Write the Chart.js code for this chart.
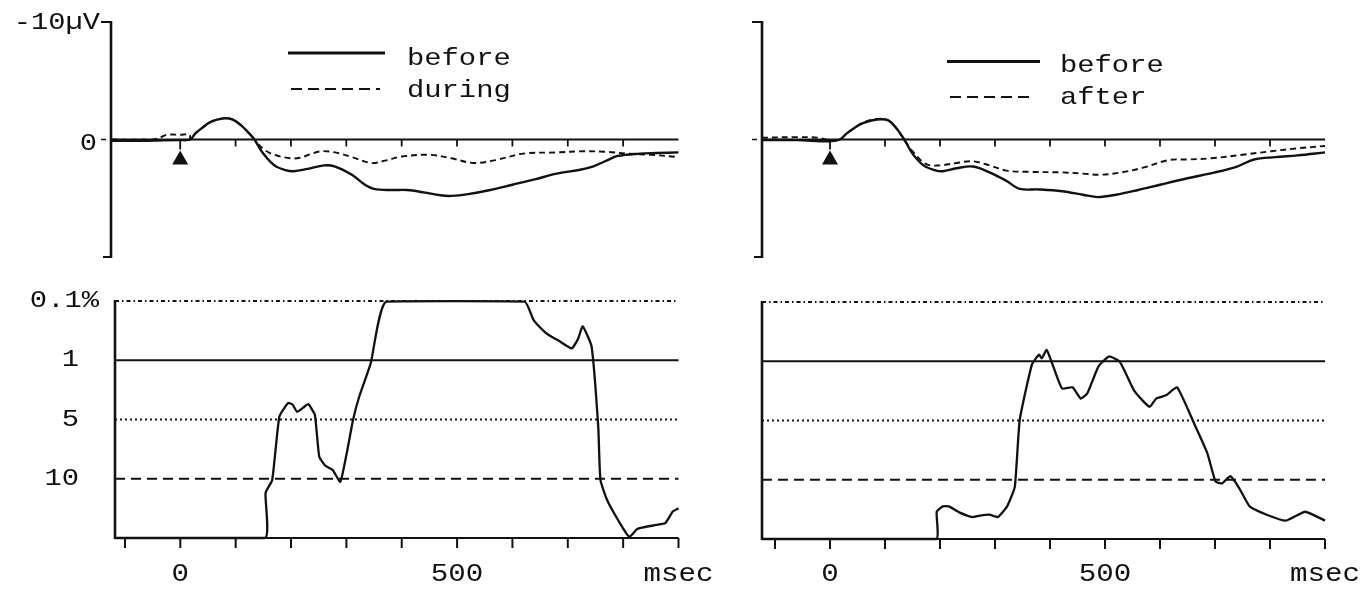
<!DOCTYPE html>
<html><head><meta charset="utf-8">
<script src="https://cdn.jsdelivr.net/npm/chart.js@4.4.0/dist/chart.umd.min.js"></script>
<style>
html,body{margin:0;padding:0;background:#fff;width:1368px;height:589px;overflow:hidden}
canvas{position:absolute;left:0;top:0}
</style></head><body>
<canvas id="tl" width="1368" height="589"></canvas>
<canvas id="tr" width="1368" height="589"></canvas>
<canvas id="bl" width="1368" height="589"></canvas>
<canvas id="br" width="1368" height="589"></canvas>
<script>
// ---------- DATA ----------
const axisTicksMs = [-100, 0, 100, 200, 300, 400, 500, 600, 700, 800, 900];
const zeroLineTicksMs = [0, 100, 200, 300, 400, 500, 600, 700, 800];
const xLabelValues = [0, 500, 900];
const xLabelTexts = ['0', '500', 'msec'];
const uVLabelValues = [-10, 0];
const uVLabelTexts = ['-10µV', '0'];
const sigLevels = [4, 3, 2, 1];
const sigLabels = ['0.1%', '1', '5', '10'];
const stimulusMs = [0];

// top-left: before (solid) / during (dashed), µV (negative up)
const tlBeforeMs = [-125, -60, 0, 18, 27, 40, 55, 78, 95, 110, 125, 134, 150, 170, 190, 205, 230, 260, 280, 310, 335, 350, 380, 410, 440, 470, 490, 520, 560, 600, 640, 680, 720, 745, 770, 790, 830, 860, 900];
const tlBeforeUv = [0.1, 0.1, 0.05, 0, -0.5, -1.0, -1.5, -1.8, -1.7, -1.2, -0.5, 0, 1.2, 2.2, 2.6, 2.7, 2.5, 2.2, 2.3, 3.0, 3.9, 4.2, 4.3, 4.3, 4.5, 4.75, 4.8, 4.65, 4.3, 3.85, 3.4, 2.9, 2.6, 2.3, 1.8, 1.4, 1.2, 1.15, 1.1];
const tlDuringMs = [-125, -49, -35, -24, 0, 17, 18, 27, 40, 55, 78, 95, 110, 125, 134, 150, 170, 200, 217, 235, 255, 280, 310, 345, 370, 400, 450, 490, 530, 570, 620, 680, 730, 770, 806, 850, 900];
const tlDuringUv = [0, 0, -0.2, -0.4, -0.4, -0.4, 0, -0.5, -1.0, -1.5, -1.8, -1.7, -1.2, -0.5, 0, 0.8, 1.3, 1.6, 1.55, 1.25, 1.0, 1.1, 1.5, 2.0, 1.8, 1.45, 1.3, 1.6, 2.0, 1.75, 1.2, 1.1, 1.0, 1.05, 1.2, 1.3, 1.5];

// top-right: before (solid) / after (dashed)
const trBeforeMs = [-124, -60, 0, 18, 30, 45, 60, 85, 105, 120, 135, 150, 170, 190, 205, 230, 260, 290, 320, 345, 380, 422, 460, 487, 520, 560, 600, 650, 700, 740, 771, 810, 850, 900];
const trBeforeUv = [0.05, 0.05, 0.15, 0, -0.5, -1.0, -1.4, -1.7, -1.65, -1.0, 0, 1.2, 2.2, 2.6, 2.7, 2.45, 2.3, 2.8, 3.5, 4.2, 4.25, 4.4, 4.7, 4.9, 4.7, 4.3, 3.85, 3.3, 2.8, 2.3, 1.7, 1.5, 1.35, 1.1];
const trAfterMs = [-124, -60, -20, 0, 18, 30, 45, 60, 85, 105, 120, 135, 150, 175, 200, 230, 259, 290, 321, 360, 422, 460, 492, 530, 569, 616, 650, 693, 750, 802, 850, 900];
const trAfterUv = [-0.15, -0.2, -0.15, 0.1, 0, -0.5, -1.0, -1.45, -1.75, -1.65, -1.0, 0, 1.0, 2.1, 2.2, 2.0, 1.85, 2.2, 2.65, 2.75, 2.8, 2.9, 3.0, 2.8, 2.4, 1.75, 1.7, 1.6, 1.3, 1.0, 0.75, 0.55];

// bottom-left: significance level (0 = n.s., 1 = 10%, 2 = 5%, 3 = 1%, 4 = 0.1%)
const blMs = [-118, 153, 154, 166, 179, 195, 203, 211, 222, 231, 243, 251, 262, 275, 289, 300, 312, 323, 344, 372, 622, 638, 658, 670, 682, 707, 718, 727, 743, 755, 759, 771, 791, 811, 825, 836, 860, 876, 890, 900];
const blLevel = [0, 0, 0.76, 0.98, 2.05, 2.28, 2.25, 2.13, 2.2, 2.26, 2.08, 1.37, 1.22, 1.15, 0.95, 1.4, 1.99, 2.38, 2.95, 3.99, 3.99, 3.68, 3.48, 3.4, 3.34, 3.2, 3.35, 3.57, 3.23, 1.88, 0.98, 0.64, 0.3, 0.02, 0.15, 0.18, 0.22, 0.25, 0.45, 0.5];

// bottom-right
const brMs = [-124, 193, 194, 205, 216, 235, 259, 275, 290, 305, 322, 336, 345, 367, 380, 385, 394, 406, 422, 441, 456, 468, 488, 507, 527, 554, 581, 593, 612, 631, 662, 686, 701, 713, 728, 744, 763, 794, 829, 864, 900];
const brLevel = [0, 0, 0.46, 0.55, 0.55, 0.45, 0.37, 0.4, 0.41, 0.37, 0.55, 0.88, 2.01, 2.94, 3.11, 3.05, 3.19, 2.91, 2.54, 2.56, 2.37, 2.46, 2.91, 3.08, 2.99, 2.49, 2.23, 2.37, 2.43, 2.56, 1.95, 1.45, 0.97, 0.94, 1.06, 0.86, 0.55, 0.41, 0.31, 0.46, 0.31];

// ---------- RENDERING ----------
const INK = '#111';
const W = 1368, H = 589;
const FONT = '"Liberation Mono", "DejaVu Sans Mono", monospace';
const pts = (xs, ys) => xs.map((x, i) => ({x: x, y: ys[i]}));

function txt(ctx, s, x, y, align, size, sx) {
  ctx.save();
  ctx.font = size + 'px ' + FONT;
  ctx.fillStyle = INK;
  ctx.textAlign = align;
  ctx.textBaseline = 'alphabetic';
  ctx.translate(x, y);
  ctx.scale(sx, 1);
  ctx.fillText(s, 0, 0);
  ctx.restore();
}
function seg(ctx, x1, y1, x2, y2, w, dash) {
  ctx.save();
  ctx.strokeStyle = INK; ctx.lineWidth = w; ctx.setLineDash(dash || []);
  ctx.beginPath(); ctx.moveTo(x1, y1); ctx.lineTo(x2, y2); ctx.stroke();
  ctx.restore();
}

const curveSolid = {borderColor: INK, borderWidth: 2.4, pointRadius: 0, tension: 0.35, fill: false, clip: false};
const curveDashed = {borderColor: INK, borderWidth: 1.9, borderDash: [6, 4], pointRadius: 0, tension: 0.35, fill: false, clip: false};
const sigDash = [[4, 3, 1.5, 3], [], [2, 3], [10, 6]];

function makeChart(id, area, xMin, xMax, yMin, yMax, reverse, datasets, extras) {
  return new Chart(document.getElementById(id), {
    type: 'line',
    data: {datasets: datasets},
    options: {
      responsive: false, animation: false, devicePixelRatio: 1,
      layout: {padding: {left: area.l, top: area.t, right: W - area.r, bottom: H - area.b}},
      scales: {
        x: {type: 'linear', min: xMin, max: xMax, display: false},
        y: {type: 'linear', min: yMin, max: yMax, reverse: reverse, display: false}
      },
      plugins: {legend: {display: false}, tooltip: {enabled: false}},
      events: []
    },
    plugins: [{id: 'extras', afterDraw: extras}]
  });
}

// ----- top panels -----
function topExtras(legendPos, showLabels) {
  return function (chart) {
    const ctx = chart.ctx, ca = chart.chartArea, xs = chart.scales.x, ys = chart.scales.y;
    const z = ys.getPixelForValue(0);
    seg(ctx, ca.left, ca.top - 1, ca.left, ca.bottom + 1, 2.6);
    seg(ctx, ca.left - 10, ca.top, ca.left + 1, ca.top, 2);
    seg(ctx, ca.left - 8, ca.bottom, ca.left + 1, ca.bottom, 2);
    seg(ctx, ca.left - 10, z, ca.left - 5, z, 1.5);
    seg(ctx, ca.left, z, xs.getPixelForValue(900), z, 2);
    zeroLineTicksMs.forEach(t => {
      const px = xs.getPixelForValue(t);
      seg(ctx, px, z, px, z + (t === 0 ? 10 : 7), 1.8);
    });
    stimulusMs.forEach(t => {
      const px = xs.getPixelForValue(t);
      ctx.save(); ctx.fillStyle = INK; ctx.beginPath();
      ctx.moveTo(px, z + 11); ctx.lineTo(px + 8, z + 25); ctx.lineTo(px - 8, z + 25);
      ctx.closePath(); ctx.fill(); ctx.restore();
    });
    if (showLabels) {
      uVLabelValues.forEach((v, i) => {
        const py = ys.getPixelForValue(v);
        txt(ctx, uVLabelTexts[i], ca.left - (i === 0 ? 11 : 14), py + (i === 0 ? 6.5 : 10), 'right', 23, 1.25);
      });
    }
    const ds = chart.data.datasets;
    const L = legendPos;
    seg(ctx, L.x1, L.y1, L.x2, L.y1, 3);
    seg(ctx, L.x1 + 3, L.y2, L.x2 - 5, L.y2, 2.2, [11, 6]);
    txt(ctx, ds[0].label, L.tx, L.b1, 'left', 24, 1.2);
    txt(ctx, ds[1].label, L.tx, L.b2, 'left', 24, 1.2);
  };
}

makeChart('tl', {l: 111, r: 678.5, t: 22, b: 257}, -125, 900, -10, 10, true, [
  Object.assign({label: 'before', data: pts(tlBeforeMs, tlBeforeUv)}, curveSolid),
  Object.assign({label: 'during', data: pts(tlDuringMs, tlDuringUv)}, curveDashed)
], topExtras({x1: 288, x2: 385, y1: 53, y2: 89, tx: 407, b1: 65, b2: 97}, true));

makeChart('tr', {l: 762, r: 1325, t: 22, b: 257}, -123.6, 900, -10, 10, true, [
  Object.assign({label: 'before', data: pts(trBeforeMs, trBeforeUv)}, curveSolid),
  Object.assign({label: 'after', data: pts(trAfterMs, trAfterUv)}, curveDashed)
], topExtras({x1: 947, x2: 1040, y1: 61.5, y2: 97, tx: 1060, b1: 72, b2: 104}, false));

// ----- bottom panels -----
function sigDatasets(xMin, ms, lv) {
  const d = sigLevels.map((lvl, i) => ({
    label: sigLabels[i] + ' level',
    data: [{x: xMin, y: lvl}, {x: 900, y: lvl}],
    borderColor: INK, borderWidth: sigDash[i].length ? 1.8 : 2, borderDash: sigDash[i],
    pointRadius: 0, tension: 0, clip: false
  }));
  d.push({label: 'significance', data: pts(ms, lv), borderColor: INK, borderWidth: 2.3,
    pointRadius: 0, tension: 0.15, fill: false, clip: false});
  return d;
}
function bottomExtras(showLabels) {
  return function (chart) {
    const ctx = chart.ctx, ca = chart.chartArea, xs = chart.scales.x, ys = chart.scales.y;
    seg(ctx, ca.left, ca.top - 1, ca.left, ca.bottom + 1, 2.6);
    seg(ctx, ca.left, ca.bottom, xs.getPixelForValue(900), ca.bottom, 2.2);
    axisTicksMs.forEach(t => {
      const px = xs.getPixelForValue(t);
      seg(ctx, px, ca.bottom, px, ca.bottom + 10, 2);
    });
    xLabelValues.forEach((v, i) => {
      txt(ctx, xLabelTexts[i], xs.getPixelForValue(v), 581, 'center', 26, 1.12);
    });
    if (showLabels) {
      sigLevels.forEach((lvl, i) => {
        const py = ys.getPixelForValue(lvl);
        const right = sigLabels[i].indexOf('%') >= 0 ? 99 : 79;
        txt(ctx, sigLabels[i], right, py + 6, 'right', 24, 1.2);
      });
    }
  };
}

makeChart('bl', {l: 115, r: 678.5, t: 301, b: 538}, -118, 900, 0, 4, false,
  sigDatasets(-118, blMs, blLevel), bottomExtras(true));
makeChart('br', {l: 762, r: 1325, t: 302, b: 539}, -123.6, 900, 0, 4, false,
  sigDatasets(-123.6, brMs, brLevel), bottomExtras(false));
</script>
</body></html>
